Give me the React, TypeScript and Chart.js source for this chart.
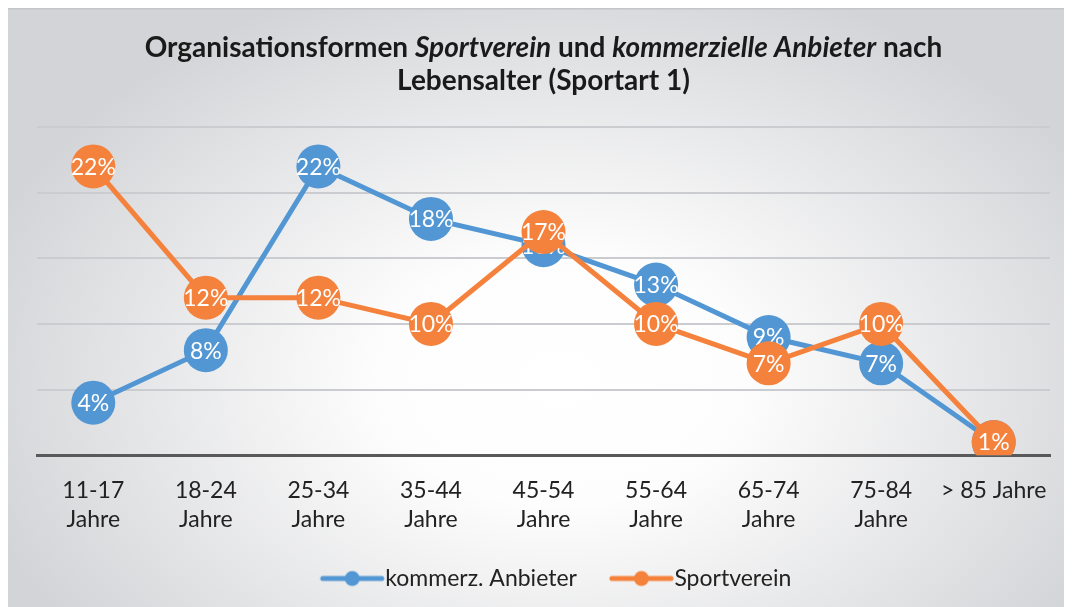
import { useEffect, useRef } from 'react';
import { Chart, registerables } from 'chart.js';

Chart.register(...registerables);

// ---- data ----
const categories: (string | string[])[] = [
  ['11-17', 'Jahre'],
  ['18-24', 'Jahre'],
  ['25-34', 'Jahre'],
  ['35-44', 'Jahre'],
  ['45-54', 'Jahre'],
  ['55-64', 'Jahre'],
  ['65-74', 'Jahre'],
  ['75-84', 'Jahre'],
  '> 85 Jahre',
];
const kommerzAnbieter = [4, 8, 22, 18, 16, 13, 9, 7, 1];
const sportverein = [22, 12, 12, 10, 17, 10, 7, 10, 1];
const seriesNames = ['kommerz. Anbieter', 'Sportverein'];
const seriesColors = ['#5297d3', '#f4823c'];
const titleLine1 = [
  { text: 'Organisationsformen ', italic: false },
  { text: 'Sportverein', italic: true },
  { text: ' und ', italic: false },
  { text: 'kommerzielle Anbieter', italic: true },
  { text: ' nach', italic: false },
];
const titleLine2 = [{ text: 'Lebensalter (Sportart 1)', italic: false }];
const yMax = 25;
const yStep = 5;

const FONT = 'Lato, "Open Sans", sans-serif';

// legend icon: wide transparent canvas, line+dot placed toward the right
function makeLegendIcon(color: string) {
  const c = document.createElement('canvas');
  c.width = 100;
  c.height = 18;
  const ctx = c.getContext('2d')!;
  ctx.strokeStyle = color;
  ctx.lineWidth = 5;
  ctx.lineCap = 'round';
  ctx.beginPath();
  ctx.moveTo(36, 9);
  ctx.lineTo(95, 9);
  ctx.stroke();
  ctx.fillStyle = color;
  ctx.beginPath();
  ctx.arc(65.5, 9, 7.5, 0, Math.PI * 2);
  ctx.fill();
  return c;
}

const backgroundPlugin = {
  id: 'bgPlugin',
  beforeDraw(chart: any) {
    const { ctx, width, height } = chart;
    ctx.save();
    const cx = width * 0.52;
    const cy = height * 0.62;
    ctx.translate(cx, cy);
    ctx.scale(1.45, 1);
    const g = ctx.createRadialGradient(0, 0, 0, 0, 0, 420);
    g.addColorStop(0, '#ffffff');
    g.addColorStop(0.3, '#fdfdfd');
    g.addColorStop(1, '#d3d4d7');
    ctx.fillStyle = g;
    ctx.fillRect(-cx / 1.45 - 10, -cy - 10, width / 1.45 + 20, height + 20);
    ctx.restore();
    ctx.save();
    ctx.strokeStyle = '#c4c5c8';
    ctx.lineWidth = 1.5;
    ctx.beginPath();
    ctx.moveTo(0.75, height);
    ctx.lineTo(0.75, 0.75);
    ctx.lineTo(width, 0.75);
    ctx.stroke();
    ctx.restore();
  },
};

const titlePlugin = {
  id: 'mixedTitle',
  afterDraw(chart: any) {
    const { ctx, chartArea } = chart;
    const cx = (chartArea.left + chartArea.right) / 2;
    const lines = [titleLine1, titleLine2];
    const ys = [40, 73];
    ctx.save();
    ctx.fillStyle = '#1a1a1a';
    ctx.textBaseline = 'middle';
    ctx.textAlign = 'left';
    lines.forEach((segs, li) => {
      let total = 0;
      const widths = segs.map((s) => {
        ctx.font = `${s.italic ? 'italic ' : ''}bold 28px ${FONT}`;
        const w = ctx.measureText(s.text).width;
        total += w;
        return w;
      });
      let x = cx - total / 2;
      segs.forEach((s, i) => {
        ctx.font = `${s.italic ? 'italic ' : ''}bold 28px ${FONT}`;
        ctx.fillText(s.text, x, ys[li]);
        x += widths[i];
      });
    });
    ctx.restore();
  },
};

const pointLabelPlugin = {
  id: 'pointLabels',
  afterDatasetDraw(chart: any, args: any) {
    const { ctx } = chart;
    const meta = args.meta;
    const ds = chart.data.datasets[args.index];
    ctx.save();
    ctx.fillStyle = '#ffffff';
    ctx.font = `23px ${FONT}`;
    ctx.textAlign = 'center';
    ctx.textBaseline = 'middle';
    meta.data.forEach((pt: any, i: number) => {
      ctx.fillText(`${ds.data[i]}%`, pt.x, pt.y + 1);
    });
    ctx.restore();
  },
};

export default function App() {
  const ref = useRef<HTMLCanvasElement | null>(null);

  useEffect(() => {
    if (!ref.current) return;
    const icons = seriesColors.map(makeLegendIcon);
    const chart = new Chart(ref.current, {
      type: 'line',
      data: {
        labels: categories,
        datasets: [
          {
            label: seriesNames[0],
            data: kommerzAnbieter,
            borderColor: seriesColors[0],
            backgroundColor: seriesColors[0],
            borderWidth: 5,
            pointRadius: 22,
            pointHoverRadius: 22,
            pointBorderWidth: 0,
            tension: 0,
            order: 1,
          },
          {
            label: seriesNames[1],
            data: sportverein,
            borderColor: seriesColors[1],
            backgroundColor: seriesColors[1],
            borderWidth: 5,
            pointRadius: 22,
            pointHoverRadius: 22,
            pointBorderWidth: 0,
            tension: 0,
            order: 0,
          },
        ],
      },
      options: {
        responsive: true,
        maintainAspectRatio: false,
        animation: false,
        layout: { padding: { top: 119, left: 31, right: 18, bottom: 7 } },
        scales: {
          x: {
            offset: true,
            grid: { display: false, drawTicks: false },
            border: { display: true, color: '#595959', width: 3 },
            ticks: {
              color: '#222222',
              font: { family: FONT, size: 23, lineHeight: 1.3 },
              padding: 20,
              maxRotation: 0,
              autoSkip: false,
            },
          },
          y: {
            min: 0,
            max: yMax,
            ticks: { display: false, stepSize: yStep },
            border: { display: false },
            grid: {
              drawTicks: false,
              color: (c: any) => (c.tick && c.tick.value === 0 ? 'rgba(0,0,0,0)' : '#cbcccf'),
              lineWidth: 2,
            },
          },
        },
        plugins: {
          title: { display: false },
          tooltip: { enabled: false },
          legend: {
            position: 'bottom',
            labels: {
              usePointStyle: true,
              pointStyleWidth: 74,
              boxHeight: 18,
              padding: 12,
              color: '#222222',
              font: { family: FONT, size: 23 },
              sort: (a: any, b: any) => a.datasetIndex - b.datasetIndex,
              generateLabels: (ch: any) =>
                ch.data.datasets.map((ds: any, i: number) => ({
                  text: ds.label,
                  fillStyle: ds.borderColor,
                  strokeStyle: ds.borderColor,
                  lineWidth: 0,
                  pointStyle: icons[i],
                  hidden: false,
                  datasetIndex: i,
                  fontColor: '#222222',
                })),
            },
          },
        },
      },
      plugins: [backgroundPlugin, titlePlugin, pointLabelPlugin],
    } as any);
    return () => chart.destroy();
  }, []);

  return (
    <div style={{ position: 'relative', width: 1066, height: 599, marginLeft: -2 }}>
      <canvas ref={ref} />
    </div>
  );
}
